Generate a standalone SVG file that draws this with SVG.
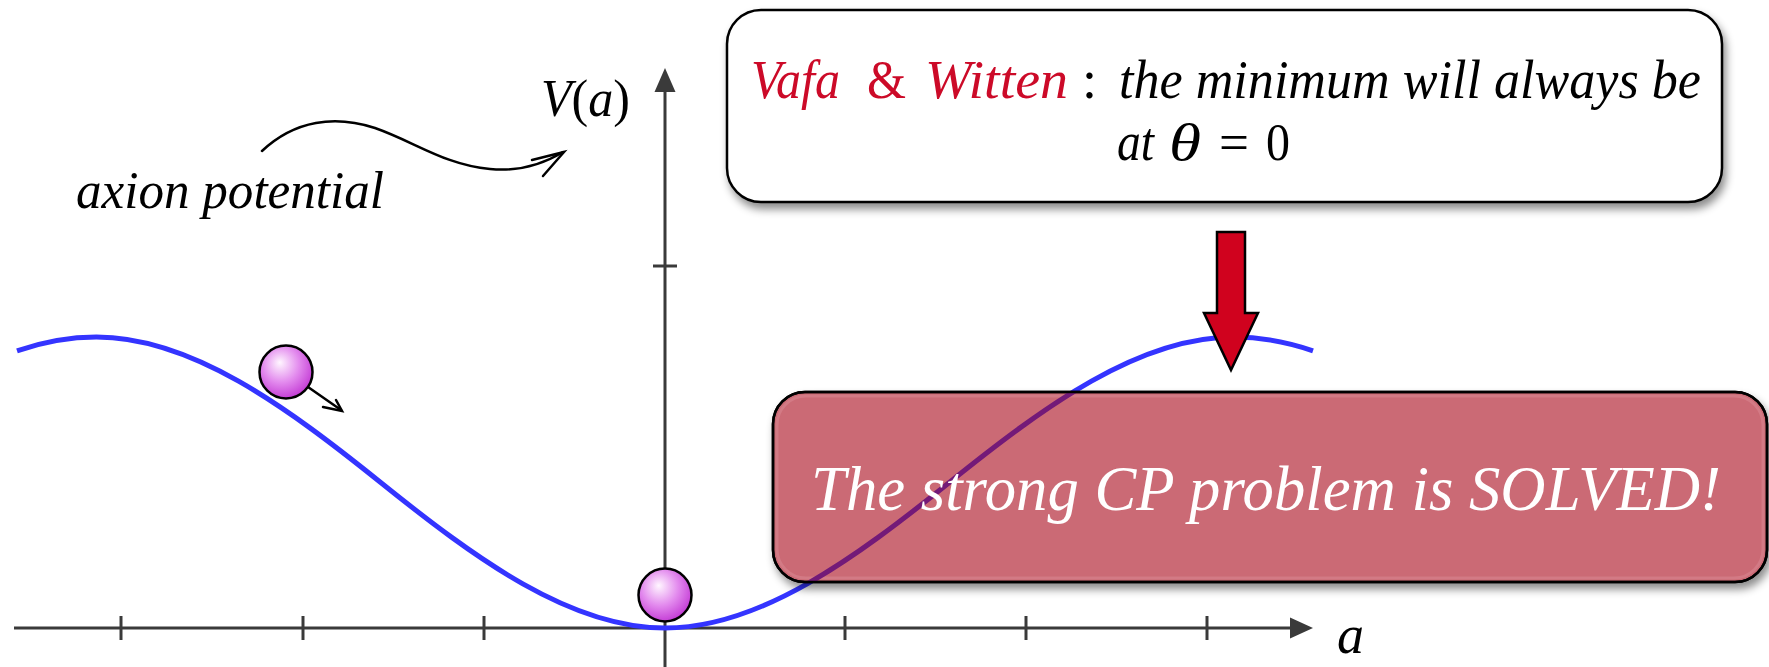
<svg xmlns="http://www.w3.org/2000/svg" width="1769" height="667" viewBox="0 0 1769 667">
<style>
.ax{stroke:#3a3a3a;stroke-width:3;fill:none}
.axh{fill:#3a3a3a;stroke:none}
.t{font-family:"Liberation Serif","DejaVu Serif",serif;font-style:italic}
.u{font-family:"Liberation Serif","DejaVu Serif",serif;font-style:normal}
.ball{fill:url(#ballg);stroke:#000;stroke-width:2.5}
.thin{stroke:#000;stroke-width:2.5;fill:none;stroke-linecap:round}
.pot{fill:none;stroke-width:5}
</style>
<defs>
<radialGradient id="ballg" cx="0.42" cy="0.38" r="0.62" fx="0.38" fy="0.32">
<stop offset="0" stop-color="#fff6ff"/>
<stop offset="0.55" stop-color="#e38cee"/>
<stop offset="1" stop-color="#c53fd6"/>
</radialGradient>
<filter id="shadow" x="-5%" y="-15%" width="112%" height="135%">
<feGaussianBlur in="SourceAlpha" stdDeviation="4"/>
<feOffset dx="3" dy="6" result="b"/>
<feFlood flood-color="#000" flood-opacity="0.45"/>
<feComposite in2="b" operator="in" result="s"/>
<feMerge><feMergeNode in="s"/><feMergeNode in="SourceGraphic"/></feMerge>
</filter>
<path id="potential" d="M17,350.8 C43.45,341.8 69.95,337 96.4,337 C191.2,337 285.9,406.3 380.7,482.5 C475.5,558.7 570.2,628 665,628 C759.8,628 854.5,558.7 949.3,482.5 C1044.1,406.3 1138.8,337 1233.6,337 C1260.05,337 1286.55,341.8 1313,350.8"/>
<clipPath id="boxclip"><rect x="773" y="392" width="994" height="190" rx="32" ry="32"/></clipPath>
</defs>

<g id="axes">
<line class="ax" x1="14" y1="628" x2="1292" y2="628"/>
<polygon class="axh" points="1313,628 1290,617.5 1290,638.5"/>
<line class="ax" x1="665" y1="667" x2="665" y2="90"/>
<polygon class="axh" points="665,68 654.5,92 675.5,92"/>
<g class="ax">
<line x1="121" y1="616" x2="121" y2="640"/>
<line x1="303" y1="616" x2="303" y2="640"/>
<line x1="484" y1="616" x2="484" y2="640"/>
<line x1="845" y1="616" x2="845" y2="640"/>
<line x1="1026" y1="616" x2="1026" y2="640"/>
<line x1="1207" y1="616" x2="1207" y2="640"/>
<line x1="653" y1="266" x2="677" y2="266"/>
</g>
<text class="t" x="541" y="116" font-size="52" textLength="89" lengthAdjust="spacingAndGlyphs">V<tspan class="u">(</tspan>a<tspan class="u">)</tspan></text>
<text class="t" x="1337" y="653" font-size="54">a</text>
</g>

<g id="curve">
<use href="#potential" class="pot" stroke="#3434ff"/>
</g>

<g id="label-axion">
<text class="t" x="76" y="208" font-size="52" textLength="308" lengthAdjust="spacingAndGlyphs">axion potential</text>
</g>

<g id="connectors">
<path class="thin" d="M262,151 C295,120 335,115 375,128 C415,142 445,165 490,169 C520,172 545,163 563,152"/>
<path class="thin" d="M532,160 L564,152 L543,176"/>
<path class="thin" d="M308,387 L341,410"/>
<path class="thin" d="M323,407 L342,411 L336,400"/>
</g>

<g id="ball1">
<circle class="ball" cx="286" cy="372" r="26.5"/>
</g>
<g id="ball2">
<circle class="ball" cx="665" cy="595" r="26.5"/>
</g>

<g id="red-arrow">
<polygon points="1217,232 1245,232 1245,313 1258,313 1231,370 1204,313 1217,313" fill="#d0021e" stroke="#000" stroke-width="2.5" stroke-linejoin="miter"/>
</g>

<g id="box-top">
<rect x="727" y="10" width="995" height="192" rx="34" ry="34" fill="#fff" stroke="#000" stroke-width="2.5" filter="url(#shadow)"/>
<text class="t" x="751" y="98" font-size="54" fill="#cc0a28" textLength="89" lengthAdjust="spacingAndGlyphs">Vafa</text>
<text class="u" x="867" y="98" font-size="54" fill="#cc0a28" textLength="39" lengthAdjust="spacingAndGlyphs">&amp;</text>
<text class="t" x="925" y="98" font-size="54" fill="#cc0a28" textLength="143" lengthAdjust="spacingAndGlyphs">Witten</text>
<text class="u" x="1082" y="98" font-size="54" fill="#000">:</text>
<text class="t" x="1119" y="98" font-size="54" fill="#000" textLength="582" lengthAdjust="spacingAndGlyphs">the minimum will always be</text>
<text class="t" x="1117" y="160" font-size="54" fill="#000" textLength="37" lengthAdjust="spacingAndGlyphs">at</text>
<text class="t" x="1169" y="160" font-size="52" fill="#000" textLength="32" lengthAdjust="spacingAndGlyphs">θ</text>
<text class="u" x="1219" y="160" font-size="52" fill="#000" textLength="30" lengthAdjust="spacingAndGlyphs">=</text>
<text class="u" x="1266" y="160" font-size="52" fill="#000" textLength="24" lengthAdjust="spacingAndGlyphs">0</text>
</g>

<g id="box-bottom">
<rect x="773" y="392" width="994" height="190" rx="32" ry="32" fill="#cb6a75" stroke="#000" stroke-width="2.5" filter="url(#shadow)"/>
<rect x="777" y="396" width="986" height="182" rx="29" ry="29" fill="none" stroke="#d98590" stroke-width="3" opacity="0.6"/>
<use href="#potential" class="pot" stroke="#731a78" clip-path="url(#boxclip)"/>
<rect x="773" y="392" width="994" height="190" rx="32" ry="32" fill="none" stroke="#000" stroke-width="2.5"/>
<text class="t" x="811" y="510" font-size="64" fill="#fff" textLength="910" lengthAdjust="spacingAndGlyphs">The strong CP problem is SOLVED!</text>
</g>
</svg>
